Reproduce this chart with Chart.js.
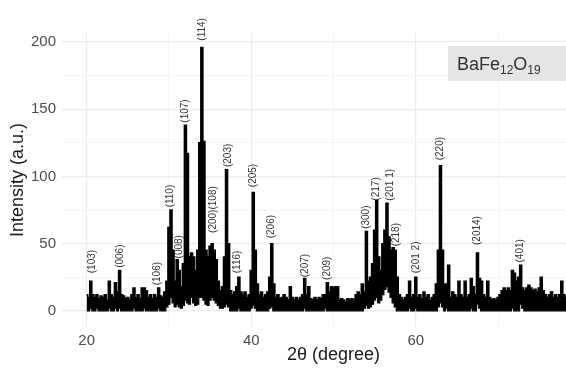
<!DOCTYPE html>
<html lang="en">
<head>
<meta charset="UTF-8" />
<title>XRD BaFe12O19</title>
<script src="https://cdn.jsdelivr.net/npm/chart.js@4.4.1/dist/chart.umd.min.js"></script>
<style>
  html, body { margin: 0; padding: 0; background: #fff; overflow: hidden; }
  #wrap { width: 610px; height: 368px; position: relative; }
</style>
</head>
<body>
<div id="wrap"><canvas id="xrd"></canvas></div>
<script>
// 2-theta grid: first angle and spacing of the read-off samples
const start = 20;
const step = 0.25;

// upper edge of the noisy trace, 4 samples per degree (20.00, 20.25, 20.50, 20.75 ...)
const upper = [
  12, 10, 22, 12,   10, 12, 9, 11,    10, 12, 8, 22,    12, 10, 21, 14,
  30, 12, 11, 9,    10, 8, 12, 17,    10, 12, 9, 17,    17, 15, 10, 12,
  9, 12, 10, 17,    11, 10, 14, 22,   62, 75, 45, 22,   38, 30, 18, 35,
  138, 117, 40, 43, 40, 30, 45, 125,  196, 126, 45, 40, 48, 50, 45, 38,
  22, 15, 18, 40,   105, 50, 15, 12,  14, 18, 25, 14,   12, 14, 10, 12,
  30, 88, 45, 20,   12, 14, 10, 12,   14, 25, 50, 20,   10, 12, 9, 10,
  12, 10, 8, 18,    10, 8, 10, 8,     10, 12, 24, 12,   18, 9, 8, 10,
  8, 10, 9, 12,     12, 21, 14, 18,   17, 18, 18, 8,    9, 8, 7, 9,
  8, 9, 8, 12,      14, 12, 20, 14,   59, 22, 25, 35,   60, 82, 40, 30,
  50, 60, 80, 55,   45, 47, 45, 25,   12, 10, 8, 10,    12, 22, 10, 12,
  25, 10, 12, 9,    14, 10, 12, 8,    10, 12, 20, 45,   108, 45, 20, 20,
  34, 10, 14, 12,   10, 22, 12, 10,   22, 10, 12, 24,   18, 12, 43, 24,
  22, 12, 10, 22,   10, 8, 9, 8,      10, 12, 15, 17,   15, 17, 15, 30,
  28, 22, 25, 34,   17, 15, 17, 19,   17, 15, 16, 14,   17, 25, 15, 12,
  10, 12, 14, 10,   12, 10, 12, 22,   12, 10, 14, 11
];

// lower edge of the noisy trace, same angles
const lower = [
  0, 0, 2, 0,   0, 2, 0, 0,   0, 0, 0, 2,   0, 0, 2, 0,
  2, 0, 0, 0,   0, 0, 0, 2,   0, 0, 0, 0,   2, 0, 0, 0,
  0, 0, 0, 2,   0, 0, 0, 3,   5, 10, 6, 3,  5, 3, 2, 4,
  8, 6, 5, 10,  6, 4, 5, 10,  10, 8, 5, 4,  8, 10, 8, 6,
  4, 2, 2, 3,   5, 3, 0, 0,   0, 0, 2, 0,   0, 0, 0, 0,
  2, 4, 2, 0,   0, 0, 0, 0,   0, 2, 3, 0,   0, 0, 0, 0,
  0, 0, 0, 0,   0, 0, 0, 0,   0, 0, 2, 0,   0, 0, 0, 0,
  0, 0, 0, 0,   2, 0, 0, 0,   0, 0, 0, 0,   0, 0, 0, 0,
  0, 0, 0, 0,   0, 0, 0, 2,   4, 2, 3, 5,   8, 10, 6, 8,
  12, 16, 18, 14, 10, 6, 3, 0, 0, 0, 0, 0,  0, 2, 0, 0,
  2, 0, 0, 0,   0, 0, 0, 0,   0, 0, 0, 3,   6, 3, 0, 2,
  0, 0, 0, 0,   0, 0, 0, 0,   0, 0, 0, 2,   0, 0, 5, 2,
  0, 0, 0, 0,   0, 0, 0, 0,   0, 0, 0, 0,   0, 0, 0, 2,
  0, 0, 0, 5,   2, 0, 0, 0,   0, 0, 0, 0,   0, 0, 0, 0,
  0, 0, 0, 0,   0, 0, 0, 0,   0, 0, 0, 0
];

// peak labels: text, angle, intensity at the foot of the label
const hklText = ['(103)', '(006)', '(106)', '(110)', '(008)', '(107)', '(114)', '(200)(108)',
  '(203)', '(116)', '(205)', '(206)', '(207)', '(209)', '(300)', '(217)', '(201 1)',
  '(218)', '(201 2)', '(220)', '(2014)', '(401)'];
const hklPos = [20.7, 24.07, 28.6, 30.1, 31.2, 32.04, 34.1, 35.4, 37.2, 38.3, 40.24,
  42.43, 46.55, 49.24, 53.92, 55.14, 56.84, 57.63, 60.06, 62.92, 67.5, 72.7];
const hklBase = [28, 32, 19, 77, 39, 140, 201, 58, 107, 28, 92, 54, 25, 23, 61, 82,
  82, 48, 28, 112, 49, 36];

const xTicks = [20, 30, 40, 50, 60, 70, 80];
const yTicks = [0, 25, 50, 75, 100, 125, 150, 175, 200];

const FONT = 'Arial, "Liberation Sans", sans-serif';
Chart.defaults.font.family = FONT;

function pts(arr) {
  return arr.map(function (v, i) { return { x: start + i * step, y: v }; });
}

const labelPlugin = {
  id: 'hklLabels',
  afterDatasetsDraw(chart) {
    const ctx = chart.ctx;
    const xs = chart.scales.x, ys = chart.scales.y;
    ctx.save();
    ctx.font = '10px ' + FONT;
    ctx.fillStyle = '#333';
    ctx.textAlign = 'left';
    ctx.textBaseline = 'middle';
    hklText.forEach(function (t, i) {
      ctx.save();
      ctx.translate(xs.getPixelForValue(hklPos[i]), ys.getPixelForValue(hklBase[i]));
      ctx.rotate(-Math.PI / 2);
      ctx.fillText(t, 0, 0);
      ctx.restore();
    });

    // formula tag in the top right corner
    const bx = chart.chartArea.left + 386, by = chart.chartArea.top + 13;
    ctx.fillStyle = '#e5e5e5';
    ctx.fillRect(bx, by, 140, 35);
    ctx.fillStyle = '#333';
    ctx.textBaseline = 'alphabetic';
    let cx = bx + 9;
    const base = by + 24;
    [['BaFe', 18, 0], ['12', 12, 4], ['O', 18, 0], ['19', 12, 4]].forEach(function (p) {
      ctx.font = p[1] + 'px ' + FONT;
      ctx.fillText(p[0], cx, base + p[2]);
      cx += ctx.measureText(p[0]).width;
    });
    ctx.restore();
  }
};

new Chart(document.getElementById('xrd'), {
  type: 'line',
  data: {
    datasets: [
      {
        data: pts(lower),
        borderColor: '#000',
        borderWidth: 1.2,
        pointRadius: 0,
        stepped: 'middle',
        fill: false
      },
      {
        data: pts(upper),
        borderColor: '#000',
        borderWidth: 1.5,
        backgroundColor: '#000',
        pointRadius: 0,
        stepped: 'middle',
        fill: '-1'
      }
    ]
  },
  options: {
    responsive: true,
    maintainAspectRatio: false,
    animation: false,
    layout: { padding: { top: 33, right: 5, left: 0, bottom: 0 } },
    plugins: { legend: { display: false }, tooltip: { enabled: false } },
    scales: {
      x: {
        type: 'linear',
        min: 17,
        max: 83,
        afterBuildTicks: function (s) { s.ticks = xTicks.map(function (v) { return { value: v }; }); },
        afterFit: function (s) { s.height = 41; },
        border: { display: false },
        grid: {
          drawTicks: false,
          color: function (c) { return c.tick && c.tick.value % 20 === 0 ? '#ebebeb' : '#f3f3f3'; },
          lineWidth: function (c) { return c.tick && c.tick.value % 20 === 0 ? 1.2 : 0.8; }
        },
        ticks: {
          padding: 5,
          color: '#4d4d4d',
          font: { size: 15 },
          maxRotation: 0,
          callback: function (v) { return v % 20 === 0 ? v : ''; }
        },
        title: {
          display: true,
          text: '2θ (degree)',
          color: '#1a1a1a',
          font: { size: 18 },
          padding: { top: 0, bottom: 2 }
        }
      },
      y: {
        min: -12,
        max: 206.7,
        afterBuildTicks: function (s) { s.ticks = yTicks.map(function (v) { return { value: v }; }); },
        afterFit: function (s) { s.width = 62; },
        border: { display: false },
        grid: {
          drawTicks: false,
          color: function (c) { return c.tick && c.tick.value % 50 === 0 ? '#ebebeb' : '#f3f3f3'; },
          lineWidth: function (c) { return c.tick && c.tick.value % 50 === 0 ? 1.2 : 0.8; }
        },
        ticks: {
          padding: 6,
          color: '#4d4d4d',
          font: { size: 15 },
          callback: function (v) { return v % 50 === 0 ? v : ''; }
        },
        title: {
          display: true,
          text: 'Intensity (a.u.)',
          color: '#1a1a1a',
          font: { size: 18 },
          padding: { top: 7, bottom: 0 }
        }
      }
    }
  },
  plugins: [labelPlugin]
});
</script>
</body>
</html>
